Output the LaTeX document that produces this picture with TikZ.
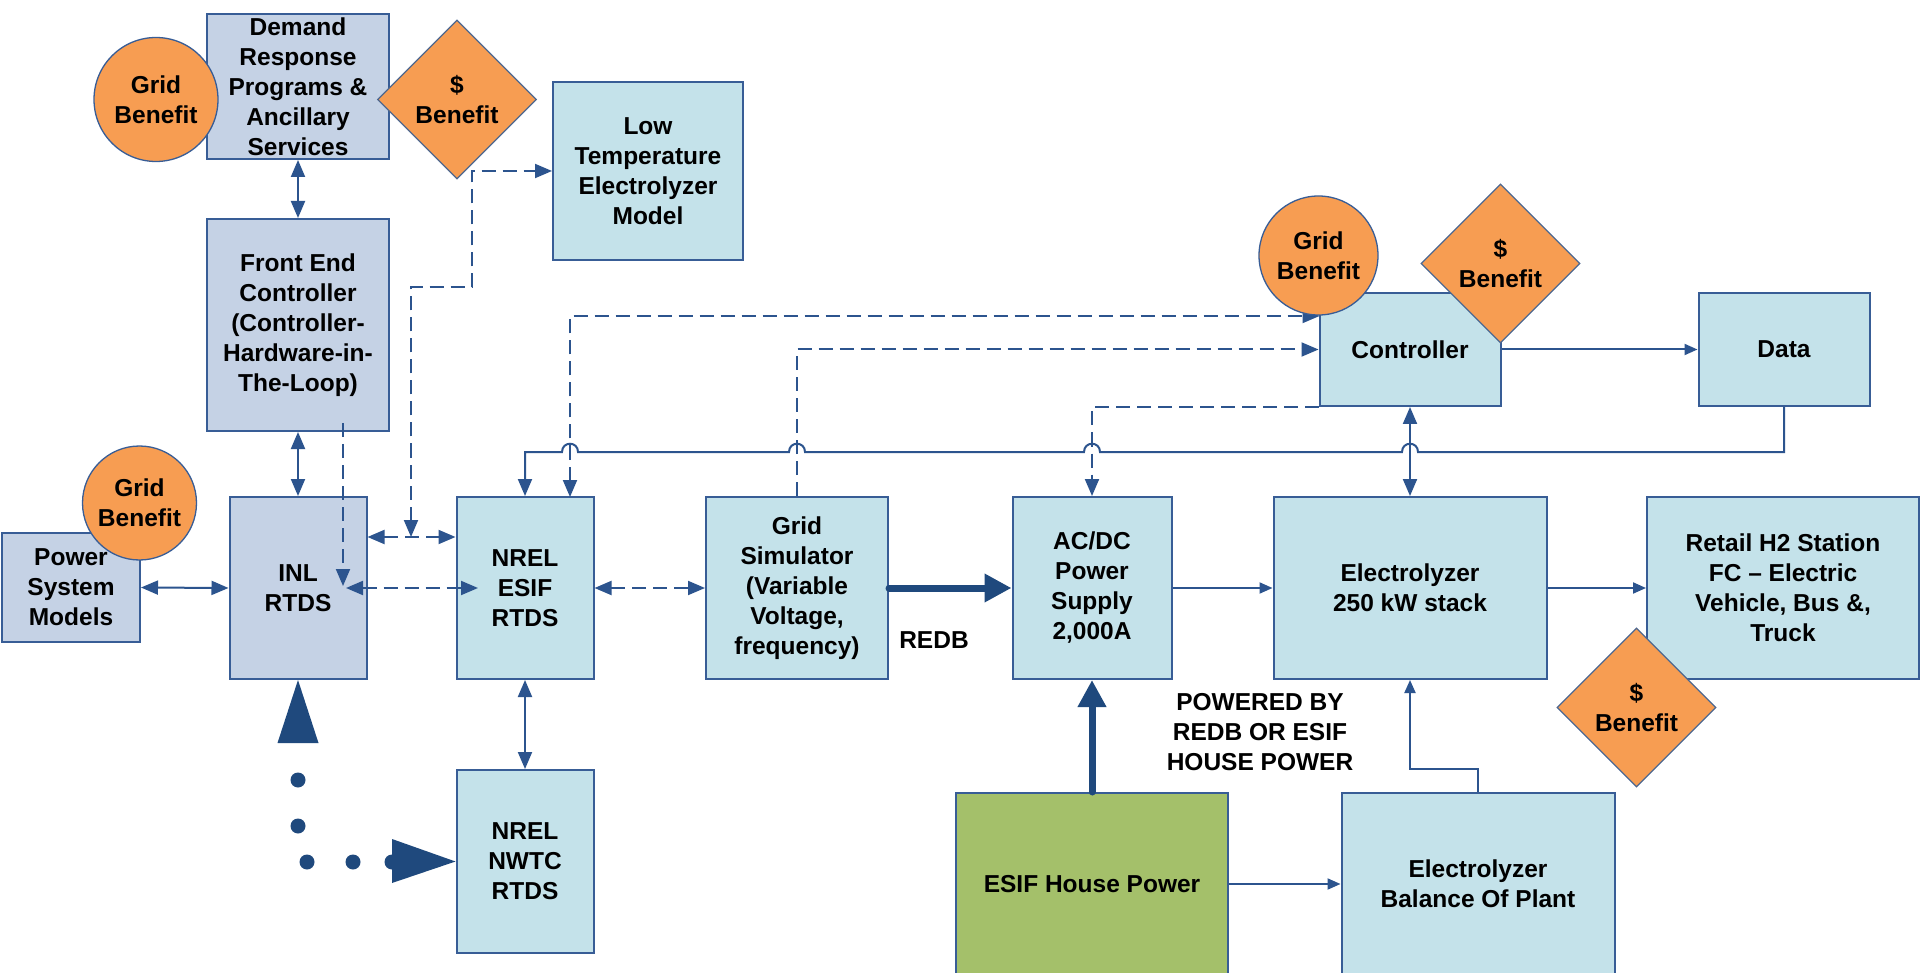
\documentclass[tikz,border=0pt]{standalone}
\usepackage{fontspec}
\setmainfont{Liberation Sans}
\usetikzlibrary{shapes.geometric,arrows.meta}
\definecolor{bbl}{RGB}{197,210,229}
\definecolor{cbl}{RGB}{196,226,234}
\definecolor{edge}{RGB}{56,93,150}
\definecolor{ln}{RGB}{44,84,142}
\definecolor{navy}{RGB}{31,73,125}
\definecolor{org}{RGB}{247,157,82}
\definecolor{grn}{RGB}{164,192,106}
\begin{document}
\begin{tikzpicture}[x=1pt,y=-1pt,
  >={Triangle[length=17pt,width=14pt]},
  every node/.style={font=\fontsize{24.5}{30}\selectfont\bfseries, align=center, inner sep=0pt, text=black},
  boxA/.style={draw=edge, line width=2pt, fill=bbl},
  boxB/.style={draw=edge, line width=2pt, fill=cbl},
  boxG/.style={draw=edge, line width=2pt, fill=grn},
  gridben/.style={circle, draw=edge, line width=1.3pt, fill=org},
  dolben/.style={diamond, draw=edge!70!gray, line width=1.2pt, fill=org, minimum size=159pt},
  conn/.style={draw=ln, line width=2pt},
  small/.style={-{Triangle[length=13pt,width=11pt]}},
  dsh/.style={conn, dash pattern=on 14pt off 7pt},
  fat/.style={draw=navy, line width=7pt, line cap=round, -{Triangle[length=27pt,width=27pt]}},
]
\useasboundingbox (0,0) rectangle (1920,973);
\fill[white] (0,0) rectangle (1920,973);

% boxes
\node[boxA, minimum width=182pt, minimum height=145pt] (dr) at (298,86.5) {Demand\\Response\\Programs \&\\Ancillary\\Services};
\node[boxA, minimum width=182pt, minimum height=212pt] (fec) at (298,325) {Front End\\Controller\\(Controller-\\Hardware-in-\\The-Loop)};
\node[boxA, minimum width=137pt, minimum height=182pt] (inl) at (298,588) {INL\\RTDS};
\node[boxA, minimum width=138pt, minimum height=109pt] (psm) at (71,587.5) {Power\\System\\Models};
\node[boxB, minimum width=137pt, minimum height=182pt] (esif) at (525,588) {NREL\\ESIF\\RTDS};
\node[boxB, minimum width=137pt, minimum height=183pt] (nwtc) at (525,861.5) {NREL\\NWTC\\RTDS};
\node[boxB, minimum width=190pt, minimum height=178pt] (lt) at (648,171) {Low\\Temperature\\Electrolyzer\\Model};
\node[boxB, minimum width=182pt, minimum height=182pt] (gs) at (797,588) {Grid\\Simulator\\(Variable\\Voltage,\\frequency)};
\node[boxB, minimum width=159pt, minimum height=182pt] (ps) at (1092,588) {AC/DC\\Power\\Supply\\2,000A};
\node[boxB, minimum width=273pt, minimum height=182pt] (el) at (1410,588) {Electrolyzer\\250 kW stack};
\node[boxB, minimum width=272pt, minimum height=182pt] (rh) at (1783,588) {Retail H2 Station\\FC \textendash{} Electric\\Vehicle, Bus \&,\\Truck};
\node[boxB, minimum width=181pt, minimum height=113pt] (ct) at (1410,349.5) {Controller};
\node[boxB, minimum width=171pt, minimum height=113pt] (data) at (1784,349.5) {Data};
\node[boxG, minimum width=272pt, minimum height=182pt] (hp) at (1092,884) {ESIF House Power};
\node[boxB, minimum width=273pt, minimum height=182pt] (bop) at (1478,884) {Electrolyzer\\Balance Of Plant};

% labels
\node (redb) at (934,640) {REDB};
\node (pwr) at (1260,732) {POWERED BY\\REDB OR ESIF\\HOUSE POWER};

% solid connectors
\draw[conn,<->] (dr.south) -- (fec.north);
\draw[conn,<->] (fec.south) -- (inl.north);
\draw[conn,<->] (psm.east) -- (inl.west);
\draw[conn,<->] (esif.south) -- (nwtc.north);
\draw[conn,small] (ps.east) -- (el.west);
\draw[conn,small] (el.east) -- (rh.west);
\draw[conn,small] (hp.east) -- (bop.west);
\draw[conn,small] (bop.north) -- ++(0,-23) -| (el.south);
\draw[conn,small] (ct.east) -- (data.west);
\draw[conn,<->] (ct.south) -- (el.north);
\coordinate (d1) at (1784,452);
\draw[conn,->] (data.south) -- (d1) -- (1418,452) .. controls (1418,441) and (1402,441) .. (1402,452)
  -- (1100,452) .. controls (1100,441) and (1084,441) .. (1084,452)
  -- (805,452) .. controls (805,441) and (789,441) .. (789,452)
  -- (578,452) .. controls (578,441) and (562,441) .. (562,452)
  -- (525,452) -- (esif.north);

% dashed connectors
\coordinate (ea) at (570,497);
\coordinate (ca) at (1319.5,316);
\draw[dsh,<->] (ea) |- (ca);
\draw[dsh,->] (gs.north) |- (ct.west);
\draw[dsh,->] (ct.south west) -| (ps.north);
\coordinate (lj) at (411,537);
\coordinate (lk) at (472,287);
\draw[dsh,<->] (lj) |- (lk) |- (lt.west);
\draw[dsh,<->] (inl.east |- lj) -- (esif.west |- lj);
\coordinate (f1) at (343,423);
\coordinate (f2) at (343,586);
\draw[dsh,->] (f1) -- (f2);
\coordinate (f3) at (346,588);
\coordinate (f4) at (478,588);
\draw[dsh,<->] (f3) -- (f4);
\draw[dsh,<->] (esif.east) -- (gs.west);

% thick arrows
\draw[fat] (gs.east) -- (ps.west);
\draw[fat] (hp.north) -- (ps.south);

% dotted path with triangles
\foreach \p in {(298,780),(298,826),(307,862),(353,862),(392,862)}
  \fill[navy] \p circle[radius=7.5pt];
\fill[navy] (277.5,743) -- (inl.south) -- (318.5,743) -- cycle;
\fill[navy] (392,839) -- (nwtc.west) -- (392,883) -- cycle;

% benefit markers
\node[gridben, minimum size=124pt] (gb1) at (156,99.5) {Grid\\Benefit};
\node[dolben] (db1) at (457,99.5) {\$\\Benefit};
\node[gridben, minimum size=114pt] (gb2) at (139.5,503) {Grid\\Benefit};
\node[gridben, minimum size=119pt] (gb3) at (1318.5,255.5) {Grid\\Benefit};
\node[dolben] (db2) at (1500.5,263.5) {\$\\Benefit};
\node[dolben] (db3) at (1636.5,707.5) {\$\\Benefit};
\end{tikzpicture}
\end{document}
